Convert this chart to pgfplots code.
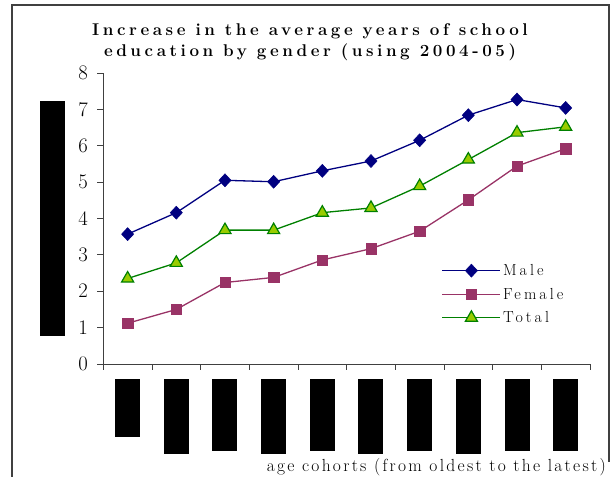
\documentclass[border=0pt]{standalone}
\usepackage{fontspec}
\setmainfont{Latin Modern Roman}
\usepackage{pgfplots}
\pgfplotsset{compat=1.18}

\definecolor{maleblue}{RGB}{0,0,128}
\definecolor{femalerose}{RGB}{153,51,102}
\definecolor{totalgreen}{RGB}{0,128,0}
\definecolor{totalfill}{RGB}{153,204,0}

\pgfplotstableread{
cohort male female total
1 3.57 1.12 2.35
2 4.16 1.50 2.78
3 5.05 2.24 3.68
4 5.01 2.38 3.68
5 5.31 2.86 4.16
6 5.58 3.17 4.29
7 6.15 3.65 4.89
8 6.84 4.51 5.62
9 7.27 5.44 6.36
10 7.04 5.92 6.52
}\schooling

\begin{document}
\begin{tikzpicture}[x=1bp,y=1bp]
\useasboundingbox (0,0) rectangle (614,477);
% outer frame
\draw[line width=1.3bp, black!75] (12,0) -- (12,472) -- (609,472) -- (609,15);

% title
\node[align=center, font=\fontsize{17bp}{21bp}\selectfont\bfseries\addfontfeatures{LetterSpace=21}]
  at (310,435) {Increase in the average years of school\\education by gender (using 2004-05)};

% y-axis caption block
\fill[black] (40,141) rectangle (65,376);

\begin{axis}[
  at={(103.3bp,113bp)}, anchor=south west,
  width=486.7bp, height=291bp, scale only axis,
  xmin=0.5, xmax=10.5, ymin=0, ymax=8,
  axis lines=left,
  axis line style={-, black!75, line width=0.8bp},
  tick style={black!75, line width=0.8bp},
  tick align=outside,
  major tick length=6bp,
  ytick={0,...,8},
  yticklabel style={font=\fontsize{19bp}{19bp}\selectfont, xshift=-6bp},
  xtick={0.5,1.5,...,10.5},
  xticklabels={},
  extra x ticks={1,...,10},
  extra x tick style={major tick length=0bp,
    xticklabel style={anchor=north, inner sep=0bp, yshift=-15bp}},
  extra x tick labels={\rule{25bp}{57.7bp},\rule{25bp}{75bp},\rule{25bp}{71.7bp},
    \rule{25bp}{75bp},\rule{25bp}{71.7bp},\rule{25bp}{75bp},\rule{25bp}{71.7bp},
    \rule{25bp}{75bp},\rule{25bp}{71.7bp},\rule{25bp}{71.7bp}},
  clip=false,
  legend style={draw=none, fill=none, at={(axis cs:7.45,2.8)}, anchor=north west,
    inner sep=0bp, row sep=7bp,
    font=\fontsize{16bp}{18bp}\selectfont\addfontfeatures{LetterSpace=19}},
  legend cell align=left,
  legend image code/.code={
    \draw[mark repeat=2, mark phase=2] plot coordinates {(0bp,0bp) (29bp,0bp) (58bp,0bp)};
  },
]
\addplot[maleblue, line width=1.3bp, mark=diamond*, mark size=6.5bp,
  mark options={fill=maleblue, draw=maleblue, line width=0.5bp, xscale=1.25}]
  table[x=cohort, y=male] {\schooling};
\addlegendentry{Male}
\addplot[femalerose, line width=1.3bp, mark=square*, mark size=5.2bp,
  mark options={fill=femalerose, draw=femalerose, line width=0.5bp}]
  table[x=cohort, y=female] {\schooling};
\addlegendentry{Female}
\addplot[totalgreen, line width=1.3bp, mark=triangle*, mark size=7bp,
  mark options={fill=totalfill, draw=totalgreen, line width=1.2bp}]
  table[x=cohort, y=total] {\schooling};
\addlegendentry{Total}
\end{axis}

% x-axis caption
\node[anchor=base east, fill=white, inner sep=1bp,
  font=\fontsize{17.5bp}{17.5bp}\selectfont\addfontfeatures{LetterSpace=13}]
  at (607,5) {age cohorts (from oldest to the latest)};
\end{tikzpicture}
\end{document}
